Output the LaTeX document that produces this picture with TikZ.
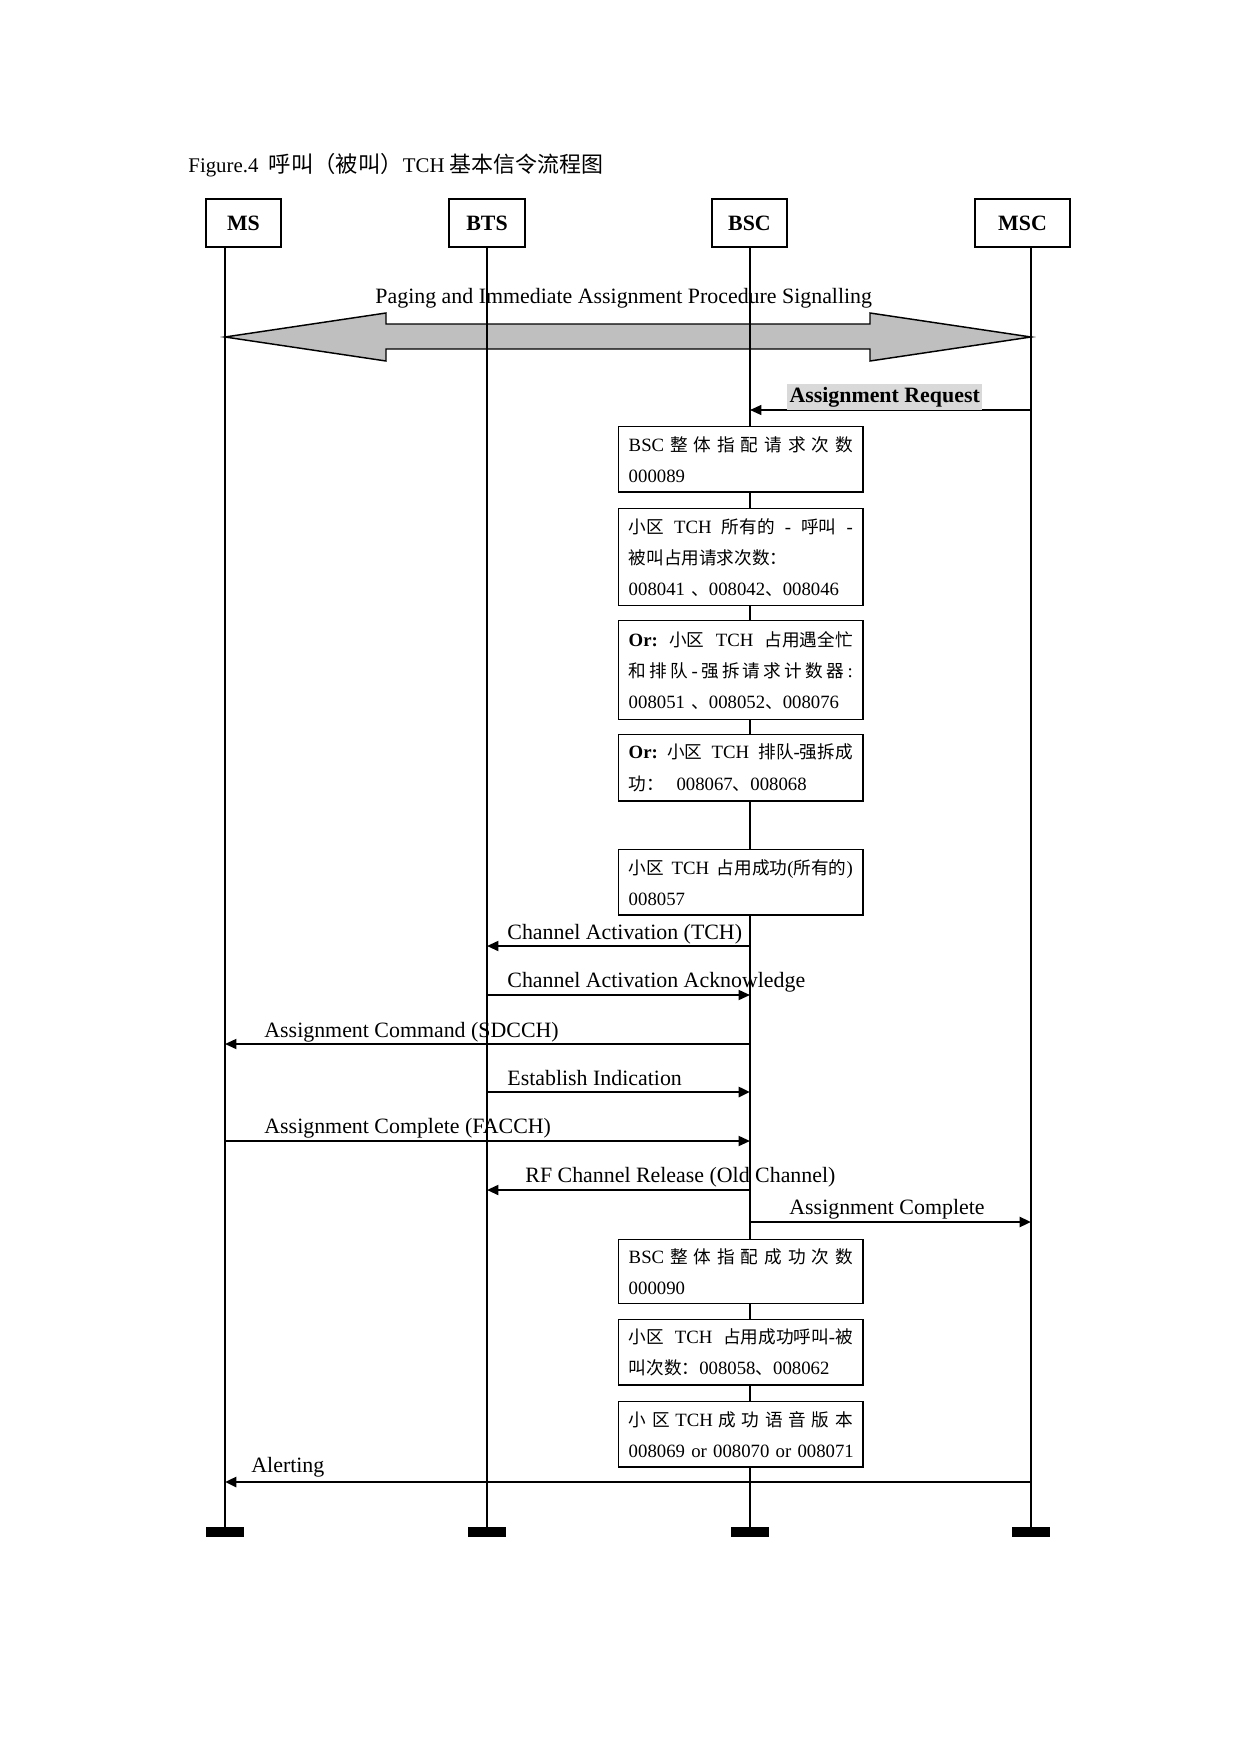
\documentclass[tikz,border=0pt]{standalone}
\usepackage{fontspec}
\setmainfont{Liberation Serif}
\newfontfamily\cjk[Scale=0.94]{Noto Sans CJK SC}
\usetikzlibrary{arrows.meta}
\newcommand{\spreadline}[1]{\makebox[\hsize][s]{#1}}
\newcommand{\gap}{\hspace{0.25em plus 1fil}}

\begin{document}
\begin{tikzpicture}[x=0.4797pt,y=-0.4797pt,
    entity/.style={shape=rectangle,draw=black,line width=0.7pt,minimum height=23pt,inner sep=0pt,font=\fontsize{10.5pt}{12pt}\selectfont\bfseries},
    counter/.style={shape=rectangle,draw=black,fill=white,line width=0.7pt,anchor=north west,minimum width=117pt,text width=107.5pt,inner xsep=4.8pt,inner ysep=1pt,align=left,font=\fontsize{9pt}{14.9pt}\selectfont},
    msg/.style={-{Triangle[length=5.5pt,width=4.8pt]},line width=0.8pt},
    msglabel/.style={anchor=base west,inner sep=0pt,font=\fontsize{10.5pt}{12pt}\selectfont},
    endbar/.style={shape=rectangle,fill=black,minimum width=17.8pt,minimum height=4.8pt,inner sep=0pt}]
        \useasboundingbox (0,0) rectangle (1241,1754);

        % title and entities
        \node[anchor=base west,inner sep=0pt,font=\fontsize{10pt}{12pt}\selectfont] (title) at (188,173) {Figure.4\ \ {\fontsize{11.4pt}{12pt}\selectfont\cjk 呼叫（被叫）}TCH {\fontsize{11.2pt}{12pt}\selectfont\cjk 基本信令流程图}};
        \node[entity,minimum width=36pt] (ms) at (243.5,223) {MS};
        \node[entity,minimum width=36.5pt] (bts) at (487,223) {BTS};
        \node[entity,minimum width=36pt] (bsc) at (749.5,223) {BSC};
        \node[entity,minimum width=45.6pt] (msc) at (1022.5,223) {MSC};

        \coordinate (mstop) at (225,247);
        \coordinate (btstop) at (487,247);
        \coordinate (bsctop) at (750,247);
        \coordinate (msctop) at (1031,247);

        \node[endbar] (msend) at (225,1532) {};
        \node[endbar] (btsend) at (487,1532) {};
        \node[endbar] (bscend) at (750,1532) {};
        \node[endbar] (mscend) at (1031,1532) {};

        % paging procedure
        \draw[line width=0.7pt,fill=black!25] (mstop |- 0,337) -- (386,313) -- (386,324) -- (870,324) -- (870,313) -- (msctop |- 0,337) -- (870,361) -- (870,349) -- (386,349) -- (386,361) -- cycle;
        \node[msglabel] (paging) at (375,303) {Paging and Immediate Assignment Procedure Signalling};

        % lifelines
        \draw[line width=1pt] (mstop) -- (msend.north);
        \draw[line width=0.5pt] (btstop) -- (btsend.north);
        \draw[line width=1.1pt] (bsctop) -- (bscend.north);
        \draw[line width=1pt] (msctop) -- (mscend.north);

        % counters
        \node[counter,minimum height=31.2pt] (c1) at (618,426) {\spreadline{BSC\hfill{\cjk 整}\hfill{\cjk 体}\hfill{\cjk 指}\hfill{\cjk 配}\hfill{\cjk 请}\hfill{\cjk 求}\hfill{\cjk 次}\hfill{\cjk 数}}\\000089};
        \node[counter,minimum height=46.5pt] (c2) at (618,508) {\spreadline{{\cjk 小区}\gap TCH\gap{\cjk 所有的}\gap-\gap{\cjk 呼叫}\gap-}\\{\cjk 被叫占用请求次数：}\\008041 {\cjk 、}008042{\cjk 、}008046};
        \node[counter,minimum height=47.5pt] (c3) at (618,620) {\spreadline{\textbf{Or:}\gap{\cjk 小区}\gap TCH\gap{\cjk 占用遇全忙}}\\\spreadline{{\cjk 和}\hfill{\cjk 排}\hfill{\cjk 队}\hfill-\hfill{\cjk 强}\hfill{\cjk 拆}\hfill{\cjk 请}\hfill{\cjk 求}\hfill{\cjk 计}\hfill{\cjk 数}\hfill{\cjk 器}\hfill:}\\008051 {\cjk 、}008052{\cjk 、}008076};
        \node[counter,minimum height=31.7pt] (c4) at (618,734) {\spreadline{\textbf{Or:}\gap{\cjk 小区}\gap TCH\gap{\cjk 排队}-{\cjk 强拆成}}\\{\cjk 功：}\ \ 008067{\cjk 、}008068};
        \node[counter,minimum height=31.2pt] (c5) at (618,849) {\spreadline{{\cjk 小区}\gap TCH\gap{\cjk 占用成功}({\cjk 所有的})}\\008057};
        \node[counter,minimum height=30.7pt] (c6) at (618,1239) {\spreadline{BSC\hfill{\cjk 整}\hfill{\cjk 体}\hfill{\cjk 指}\hfill{\cjk 配}\hfill{\cjk 成}\hfill{\cjk 功}\hfill{\cjk 次}\hfill{\cjk 数}}\\000090};
        \node[counter,minimum height=31.2pt] (c7) at (618,1319) {\spreadline{{\cjk 小区}\gap TCH\gap{\cjk 占用成功呼叫}-{\cjk 被}}\\{\cjk 叫次数：}008058{\cjk 、}008062};
        \node[counter,minimum height=31.2pt] (c8) at (618,1401) {\spreadline{{\cjk 小}\hfill{\cjk 区}\hfill TCH\hfill{\cjk 成}\hfill{\cjk 功}\hfill{\cjk 语}\hfill{\cjk 音}\hfill{\cjk 版}\hfill{\cjk 本}}\\\mbox{008069 or 008070 or 008071}};

        % messages
        \draw[msg,line width=0.7pt] (msctop |- 0,410) -- (bsctop |- 0,410);
        \node[msglabel,anchor=base west,fill=black!15,inner xsep=1pt,inner ysep=1.5pt,font=\fontsize{10.5pt}{12pt}\selectfont\bfseries] (areq) at (787,402) {Assignment Request};

        \draw[msg,line width=1pt] (bsctop |- 0,946) -- (btstop |- 0,946);
        \node[msglabel] (chact) at (507,939) {Channel Activation (TCH)};

        \draw[msg,line width=0.9pt] (btstop |- 0,995) -- (bsctop |- 0,995);
        \node[msglabel] (chack) at (507,987) {Channel Activation Acknowledge};

        \draw[msg,line width=0.9pt] (bsctop |- 0,1044) -- (mstop |- 0,1044);
        \node[msglabel] (acmd) at (264,1037) {Assignment Command (SDCCH)};

        \draw[msg,line width=1.4pt] (btstop |- 0,1092) -- (bsctop |- 0,1092);
        \node[msglabel] (estind) at (507,1085) {Establish Indication};

        \draw[msg,line width=0.9pt] (mstop |- 0,1141) -- (bsctop |- 0,1141);
        \node[msglabel] (acmpf) at (264,1133) {Assignment Complete (FACCH)};

        \draw[msg,line width=1pt] (bsctop |- 0,1190) -- (btstop |- 0,1190);
        \node[msglabel] (rfrel) at (525,1182) {RF Channel Release (Old Channel)};

        \draw[msg,line width=1.2pt] (bsctop |- 0,1222) -- (msctop |- 0,1222);
        \node[msglabel] (acmp) at (789,1214) {Assignment Complete};

        \draw[msg,line width=1.4pt] (msctop |- 0,1482) -- (mstop |- 0,1482);
        \node[msglabel] (alert) at (251,1472) {Alerting};
\end{tikzpicture}
\end{document}
